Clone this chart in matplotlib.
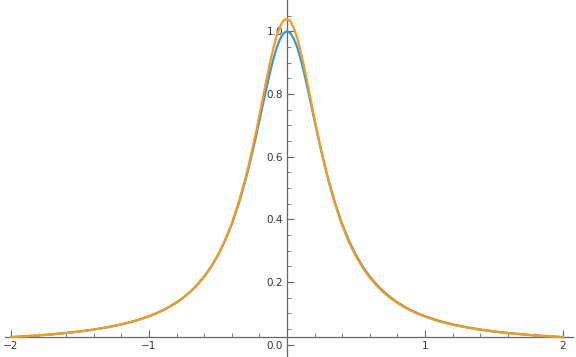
import matplotlib
matplotlib.use("Agg")
import matplotlib.pyplot as plt
from matplotlib.ticker import MultipleLocator, FixedLocator

# x positions of sampled points
x_left = [-2.0, -1.9, -1.8, -1.7, -1.6, -1.5, -1.4, -1.3, -1.2, -1.1, -1.0,
          -0.95, -0.9, -0.85, -0.8, -0.75, -0.7, -0.65, -0.6, -0.55, -0.5,
          -0.45, -0.4, -0.35, -0.3, -0.275, -0.25, -0.225, -0.2, -0.175,
          -0.15, -0.125, -0.1, -0.075, -0.05, -0.025]
x_mid = [0.0]
x_right = [0.025, 0.05, 0.075, 0.1, 0.125, 0.15, 0.175, 0.2, 0.225, 0.25,
           0.275, 0.3, 0.35, 0.4, 0.45, 0.5, 0.55, 0.6, 0.65, 0.7, 0.75, 0.8,
           0.85, 0.9, 0.95, 1.0, 1.1, 1.2, 1.3, 1.4, 1.5, 1.6, 1.7, 1.8, 1.9,
           2.0]
x_vals = x_left + x_mid + x_right

blue_left = [0.0244, 0.0270, 0.0299, 0.0334, 0.0376, 0.0426, 0.0485, 0.0559,
             0.0649, 0.0763, 0.0909, 0.0998, 0.1099, 0.1216, 0.1351, 0.1509,
             0.1695, 0.1914, 0.2174, 0.2484, 0.2857, 0.3306, 0.3846, 0.4494,
             0.5263, 0.5694, 0.6154, 0.6639, 0.7143, 0.7656, 0.8163, 0.8649,
             0.9091, 0.9467, 0.9756, 0.9938]
blue_mid = [1.0]
blue_right = blue_left[::-1]
blue_vals = blue_left + blue_mid + blue_right

orange_left = [0.0241, 0.0267, 0.0296, 0.0331, 0.0373, 0.0422, 0.0482, 0.0555,
               0.0645, 0.0760, 0.0901, 0.0990, 0.1092, 0.1209, 0.1344, 0.1503,
               0.1690, 0.1909, 0.2169, 0.2485, 0.2862, 0.3318, 0.3870, 0.4537,
               0.5329, 0.5777, 0.6261, 0.6773, 0.7312, 0.7871, 0.8429, 0.8957,
               0.9442, 0.9849, 1.0156, 1.0345]
orange_mid = [1.0400]
orange_right = [1.0314, 1.0097, 0.9766, 0.9339, 0.8841, 0.8306, 0.7746, 0.7188,
                0.6652, 0.6146, 0.5669, 0.5230, 0.4452, 0.3800, 0.3260, 0.2813,
                0.2444, 0.2135, 0.1881, 0.1666, 0.1483, 0.1327, 0.1194, 0.1079,
                0.0979, 0.0891, 0.0745, 0.0634, 0.0546, 0.0474, 0.0416, 0.0367,
                0.0327, 0.0292, 0.0263, 0.0238]
orange_vals = orange_left + orange_mid + orange_right

x_tick_vals = [-2, -1, 1, 2]
x_tick_labels = ["\u22122", "\u22121", "1", "2"]
y_tick_vals = [0.0, 0.2, 0.4, 0.6, 0.8, 1.0]
y_tick_labels = ["0.0", "0.2", "0.4", "0.6", "0.8", "1.0"]

axis_y = 0.0244  # where the horizontal axis crosses

fig = plt.figure(figsize=(5.76, 3.57), dpi=100)
ax = fig.add_axes([0, 0, 1, 1])
ax.set_xlim(-2.0797, 2.0942)
ax.set_ylim(-0.0392, 1.0995)

ax.plot(x_vals, blue_vals, color="#3a97d4", lw=1.6, solid_capstyle="round",
        solid_joinstyle="round", zorder=3)
ax.plot(x_vals, orange_vals, color="#f39c1a", lw=1.6, solid_capstyle="round",
        solid_joinstyle="round", zorder=4)

axis_col = "#666666"
for s in ["top", "right"]:
    ax.spines[s].set_visible(False)
ax.spines["bottom"].set_position(("data", axis_y))
ax.spines["left"].set_position(("data", 0.0))
ax.spines["bottom"].set_bounds(-2.04, 2.07)
ax.spines["bottom"].set_color(axis_col)
ax.spines["left"].set_color(axis_col)
ax.spines["bottom"].set_linewidth(0.9)
ax.spines["left"].set_linewidth(0.9)

ax.xaxis.set_major_locator(FixedLocator(x_tick_vals))
ax.set_xticklabels(x_tick_labels)
ax.xaxis.set_minor_locator(MultipleLocator(0.2))
ax.yaxis.set_major_locator(FixedLocator(y_tick_vals))
ax.set_yticklabels(y_tick_labels)
ax.yaxis.set_minor_locator(MultipleLocator(0.05))

ax.tick_params(axis="both", which="major", direction="in", length=5, width=0.8,
               color=axis_col, labelsize=7.5, labelcolor="#333333", pad=3)
ax.tick_params(axis="both", which="minor", direction="in", length=3, width=0.6,
               color=axis_col)
ax.patch.set_alpha(0)
fig.patch.set_facecolor("white")

fig.savefig("out.png", dpi=100, facecolor="white")
